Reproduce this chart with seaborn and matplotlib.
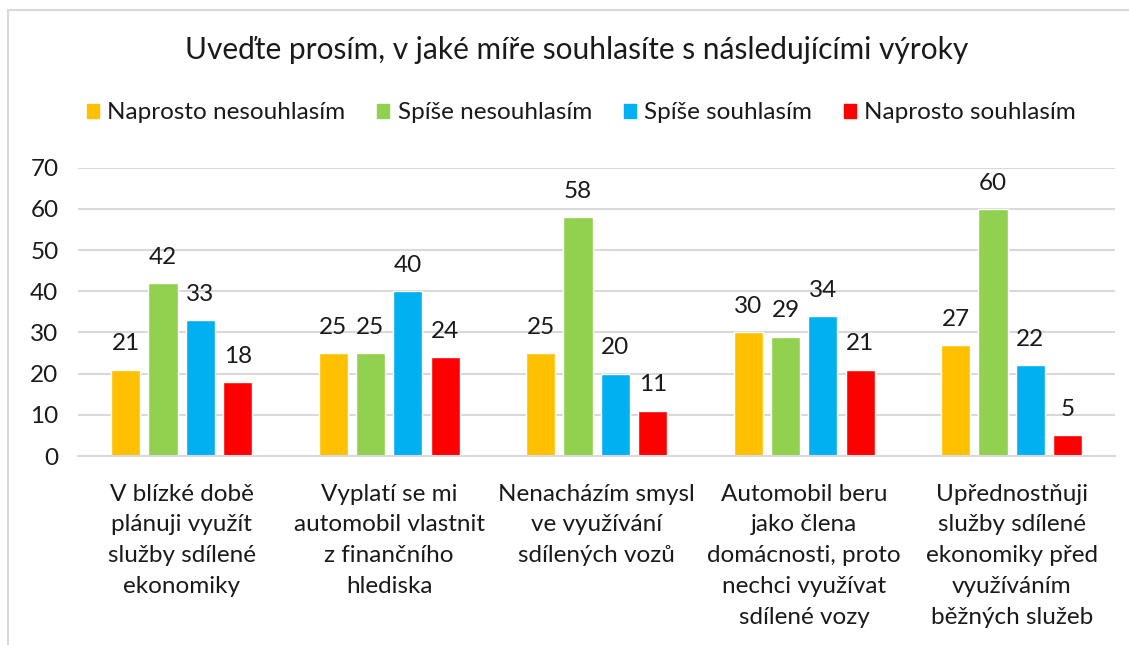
import matplotlib.pyplot as plt
import pandas as pd
import seaborn as sns
from matplotlib.patches import Rectangle

# data
statements = ['V blízké době\nplánuji využít\nslužby sdílené\nekonomiky',
              'Vyplatí se mi\nautomobil vlastnit\nz finančního\nhlediska',
              'Nenacházím smysl\nve využívání\nsdílených vozů',
              'Automobil beru\njako člena\ndomácnosti, proto\nnechci využívat\nsdílené vozy',
              'Upřednostňuji\nslužby sdílené\nekonomiky před\nvyužíváním\nběžných služeb']
answers = ['Naprosto nesouhlasím', 'Spíše nesouhlasím', 'Spíše souhlasím', 'Naprosto souhlasím']
naprosto_nesouhlasim = [21, 25, 25, 30, 27]
spise_nesouhlasim = [42, 25, 58, 29, 60]
spise_souhlasim = [33, 40, 20, 34, 22]
naprosto_souhlasim = [18, 24, 11, 21, 5]
colors = ['#FFC000', '#92D050', '#00B0F0', '#FF0000']
yticks = [0, 10, 20, 30, 40, 50, 60, 70]

sns.set_theme(style="white")
plt.rcParams['font.family'] = ['Lato', 'DejaVu Sans']
txt = '#1a1a1a'
fs = 17.5

rows = []
for ans, vals in zip(answers, [naprosto_nesouhlasim, spise_nesouhlasim,
                               spise_souhlasim, naprosto_souhlasim]):
    for st, v in zip(statements, vals):
        rows.append({'vyrok': st, 'odpoved': ans, 'pocet': v})
df = pd.DataFrame(rows)

fig = plt.figure(figsize=(11.29, 6.45), dpi=100)
ax = fig.add_axes([0.069, 0.293, 0.919, 0.447])

sns.barplot(data=df, x='vyrok', y='pocet', hue='odpoved', hue_order=answers,
            palette=colors, width=0.72, gap=0.22, saturation=1, ax=ax,
            legend=False, errorbar=None)

for c in ax.containers:
    ax.bar_label(c, padding=11, fontsize=fs, color=txt)

ax.set_ylim(0, 70)
ax.set_xlim(-0.5, 4.5)
ax.set_yticks(yticks)
ax.yaxis.grid(True, color='#D9D9D9', linewidth=1.5)
ax.set_axisbelow(True)
for s in ['left', 'right', 'top']:
    ax.spines[s].set_visible(False)
ax.spines['bottom'].set_color('#D9D9D9')
ax.spines['bottom'].set_linewidth(1.5)
ax.set_xlabel('')
ax.set_ylabel('')
ax.tick_params(axis='both', length=0, labelsize=fs, colors=txt)
ax.tick_params(axis='x', pad=20)
ax.tick_params(axis='y', pad=14)
for lab in ax.get_xticklabels():
    lab.set_linespacing(1.57)
    lab.set_verticalalignment('top')

handles = [Rectangle((0, 0), 1, 1, color=c) for c in colors]
fig.legend(handles, answers, loc='center', bbox_to_anchor=(0.515, 0.825), ncol=4,
           frameon=False, fontsize=fs, handlelength=0.5, handleheight=0.5,
           handletextpad=0.35, columnspacing=1.3, labelcolor=txt)

fig.text(0.511, 0.922, 'Uveďte prosím, v jaké míře souhlasíte s následujícími výroky',
         ha='center', va='center', fontsize=21.5, color=txt)

fig.patches.append(Rectangle((8 / 1129, -0.1), 1.2, 1 - 10 / 645 + 0.1,
                             transform=fig.transFigure, fill=False,
                             edgecolor='#D9D9D9', linewidth=1.5))

fig.savefig('out.png', dpi=100)
